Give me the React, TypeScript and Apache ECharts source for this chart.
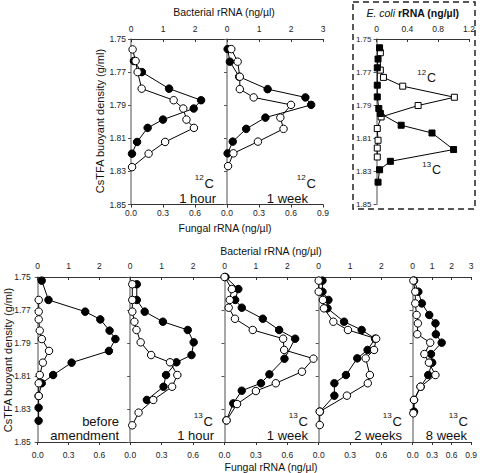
import React, { useEffect, useRef } from "react";
import * as echarts from "echarts";

const FONT = "'Liberation Sans', Arial, sans-serif";

// ---- Top row: 12C 1 hour ----
const t1FilledY = [1.7633, 1.770, 1.780, 1.787, 1.792, 1.7987, 1.8037, 1.8122, 1.8193];
const t1FilledBac = [0.09, 0.34, 1.19, 2.19, 1.96, 1.00, 0.52, 0.19, 0.03];
const t1OpenY = [1.7563, 1.7633, 1.770, 1.780, 1.787, 1.792, 1.7987, 1.8037, 1.8122, 1.8193, 1.8274];
const t1OpenFun = [0.015, 0.043, 0.062, 0.10, 0.40, 0.49, 0.52, 0.59, 0.32, 0.165, 0.01];

// ---- Top row: 12C 1 week ----
const t2FilledY = [1.7561, 1.7637, 1.7728, 1.7803, 1.7853, 1.7898, 1.7975, 1.8043, 1.812, 1.8191];
const t2FilledBac = [0.02, 0.09, 0.38, 1.27, 2.45, 2.63, 1.20, 0.60, 0.18, 0.02];
const t2OpenY = [1.7561, 1.7637, 1.7728, 1.7803, 1.7853, 1.7898, 1.7975, 1.8043, 1.812, 1.8191, 1.8268];
const t2OpenFun = [0.04, 0.10, 0.12, 0.12, 0.25, 0.60, 0.50, 0.53, 0.29, 0.06, 0.01];

// ---- E. coli panel ----
const eOpenY = [1.7583, 1.7688, 1.7732, 1.7785, 1.7852, 1.7902, 1.7971, 1.8041, 1.8112, 1.8159, 1.8213];
const eOpenVal = [0.05, 0.05, 0.09, 0.34, 1.01, 0.54, 0.06, 0.01, 0.02, 0.01, 0.01];
const eFilledY = [1.7553, 1.7621, 1.7674, 1.7779, 1.785, 1.792, 1.795, 1.8021, 1.8068, 1.8168, 1.8239, 1.829, 1.8365];
const eFilledVal = [0.04, 0.02, 0.01, 0.01, 0.01, 0.03, 0.05, 0.32, 0.72, 1.0, 0.18, 0.04, 0.02];

// ---- Bottom row ----
const b1FilledY = [1.7522, 1.7639, 1.771, 1.7757, 1.7825, 1.7876, 1.7948, 1.8019, 1.8094, 1.8144, 1.8221, 1.8292, 1.8371];
const b1FilledBac = [0.13, 0.35, 1.54, 2.03, 2.33, 2.52, 2.31, 1.10, 0.50, 0.13, 0.03, 0.03, 0.03];
const b1OpenY = [1.7639, 1.771, 1.7757, 1.7825, 1.7876, 1.7948, 1.8019, 1.8094, 1.8144, 1.8221];
const b1OpenFun = [0.01, 0.01, 0.01, 0.02, 0.04, 0.11, 0.05, 0.02, 0.01, 0.01];

const b2FilledY = [1.7544, 1.7639, 1.771, 1.7771, 1.7821, 1.7896, 1.7973, 1.8017, 1.8094, 1.8165, 1.8245];
const b2FilledBac = [0.21, 0.21, 0.46, 1.04, 1.83, 2.02, 1.95, 1.47, 1.14, 1.06, 0.53];
const b2OpenY = [1.7544, 1.7639, 1.771, 1.7771, 1.7821, 1.7896, 1.7973, 1.8017, 1.8094, 1.8165, 1.8245, 1.8322, 1.8399];
const b2OpenFun = [0.02, 0.02, 0.02, 0.04, 0.06, 0.10, 0.20, 0.38, 0.45, 0.40, 0.22, 0.08, 0.02];

const b3FilledY = [1.750, 1.7573, 1.7639, 1.7686, 1.7753, 1.7821, 1.7874, 1.7995, 1.809, 1.8144, 1.8189, 1.8266, 1.8369];
const b3FilledBac = [0.03, 0.44, 0.34, 0.55, 1.22, 1.74, 2.25, 1.91, 1.43, 1.16, 0.55, 0.28, 0.06];
const b3OpenY = [1.750, 1.7573, 1.7639, 1.7686, 1.7753, 1.7821, 1.7874, 1.7942, 1.7995, 1.8074, 1.8144, 1.8191, 1.827, 1.8369];
const b3OpenFun = [0.0, 0.07, 0.05, 0.04, 0.10, 0.27, 0.56, 0.57, 0.85, 0.74, 0.49, 0.30, 0.12, 0.02];

const b4FilledY = [1.7522, 1.7589, 1.7639, 1.769, 1.7771, 1.7821, 1.7874, 1.7942, 1.7993, 1.8094, 1.8144, 1.8219, 1.8316];
const b4FilledBac = [0.12, 0.12, 0.31, 0.28, 0.81, 1.37, 1.80, 1.56, 1.23, 0.87, 0.50, 0.50, 0.04];
const b4OpenY = [1.7522, 1.7589, 1.7639, 1.769, 1.7771, 1.7821, 1.7874, 1.7942, 1.7993, 1.8094, 1.8144, 1.8219, 1.8316, 1.8397];
const b4OpenFun = [0.0, 0.0, 0.04, 0.05, 0.14, 0.28, 0.55, 0.53, 0.45, 0.49, 0.47, 0.27, 0.01, 0.01];

const b5FilledY = [1.7522, 1.7589, 1.766, 1.773, 1.7781, 1.7847, 1.7898, 1.7967, 1.8019, 1.8094, 1.8165, 1.8245, 1.8316];
const b5FilledBac = [0.07, 0.29, 0.47, 0.85, 1.17, 1.19, 1.49, 0.94, 1.00, 0.80, 0.41, 0.07, 0.07];
const b5OpenY = [1.7522, 1.7589, 1.766, 1.773, 1.7781, 1.7847, 1.7898, 1.7967, 1.8019, 1.8094, 1.8165, 1.8245, 1.8326];
const b5OpenFun = [0.01, 0.04, 0.04, 0.06, 0.08, 0.07, 0.27, 0.18, 0.25, 0.35, 0.12, 0.02, 0.01];

const fungalTicks = { min: 0, max: 0.9, interval: 0.3 };
const bacterialTicks = { min: 0, max: 3, interval: 1 };
const densityTicks = { min: 1.75, max: 1.85, interval: 0.02 };
const ecoliTicks = { min: 0, max: 1.2, interval: 0.4 };

type Panel = {
  fY: number[]; fX: number[]; oY: number[]; oX: number[];
  left: number; width: number; top: number; height: number;
  showY: boolean; last: boolean; topMargin: number; bottomMargin: number; yMargin: number;
};

const panels: Panel[] = [
  { fY: t1FilledY, fX: t1FilledBac, oY: t1OpenY, oX: t1OpenFun, left: 131, width: 96, top: 39, height: 165.5, showY: true, last: false, topMargin: 6, bottomMargin: 4, yMargin: 5 },
  { fY: t2FilledY, fX: t2FilledBac, oY: t2OpenY, oX: t2OpenFun, left: 227, width: 96, top: 39, height: 165.5, showY: false, last: true, topMargin: 6, bottomMargin: 4, yMargin: 5 },
  { fY: b1FilledY, fX: b1FilledBac, oY: b1OpenY, oX: b1OpenFun, left: 37.7, width: 92.5, top: 277, height: 165, showY: true, last: false, topMargin: 7, bottomMargin: 8, yMargin: 7 },
  { fY: b2FilledY, fX: b2FilledBac, oY: b2OpenY, oX: b2OpenFun, left: 130.2, width: 94.3, top: 277, height: 165, showY: false, last: false, topMargin: 7, bottomMargin: 8, yMargin: 7 },
  { fY: b3FilledY, fX: b3FilledBac, oY: b3OpenY, oX: b3OpenFun, left: 224.5, width: 94.2, top: 277, height: 165, showY: false, last: false, topMargin: 7, bottomMargin: 8, yMargin: 7 },
  { fY: b4FilledY, fX: b4FilledBac, oY: b4OpenY, oX: b4OpenFun, left: 318.7, width: 94, top: 277, height: 165, showY: false, last: false, topMargin: 7, bottomMargin: 8, yMargin: 7 },
  { fY: b5FilledY, fX: b5FilledBac, oY: b5OpenY, oX: b5OpenFun, left: 412.7, width: 94, top: 277, height: 165, showY: false, last: true, topMargin: 7, bottomMargin: 8, yMargin: 7 },
];

const TEXT = "#111";

function superC(rightX: number, cy: number, sup: string, size = 13) {
  const cw = size * 0.722 + 1;
  return [
    { type: "text", x: rightX, y: cy, style: { text: "C", fontSize: size, fontFamily: FONT, fill: TEXT, align: "right", textAlign: "right", verticalAlign: "middle", textVerticalAlign: "middle" } },
    { type: "text", x: rightX - cw, y: cy - size * 0.42, style: { text: sup, fontSize: size * 0.62, fontFamily: FONT, fill: TEXT, align: "right", textAlign: "right", verticalAlign: "middle", textVerticalAlign: "middle" } },
  ];
}

function line(rightX: number, cy: number, text: string, size = 13) {
  return { type: "text", x: rightX, y: cy, style: { text, fontSize: size, fontFamily: FONT, fill: TEXT, align: "right", textAlign: "right", verticalAlign: "middle", textVerticalAlign: "middle" } };
}

function centered(x: number, y: number, text: string, size: number, extra: any = {}) {
  return { type: "text", x, y, ...extra, style: { text, fontSize: size, fontFamily: FONT, fill: TEXT, align: "center", textAlign: "center", verticalAlign: "middle", textVerticalAlign: "middle" } };
}

function buildOption() {
  const grid: any[] = [];
  const xAxis: any[] = [];
  const yAxis: any[] = [];
  const series: any[] = [];
  const labelStyle = { fontSize: 8.5, fontFamily: FONT, color: "#222" };

  panels.forEach((p, i) => {
    grid.push({ left: p.left, top: p.top, width: p.width, height: p.height });
    const bIdx = xAxis.length;
    xAxis.push({
      gridIndex: i, type: "value", position: "bottom", ...fungalTicks,
      axisLine: { show: true, onZero: false, lineStyle: { color: "#333", width: 1 } },
      axisTick: { show: true, length: 3, lineStyle: { color: "#333" } },
      splitLine: { show: false },
      axisLabel: { ...labelStyle, margin: p.bottomMargin, formatter: (v: number) => (v > 0.85 && !p.last ? "" : v.toFixed(1)) },
    });
    const tIdx = xAxis.length;
    xAxis.push({
      gridIndex: i, type: "value", position: "top", ...bacterialTicks,
      axisLine: { show: true, onZero: false, lineStyle: { color: "#333", width: 1 } },
      axisTick: { show: true, inside: true, length: 3, lineStyle: { color: "#333" } },
      splitLine: { show: false },
      axisLabel: { ...labelStyle, margin: p.topMargin, formatter: (v: number) => (v > 2.5 && !p.last ? "" : String(Math.round(v))) },
    });
    yAxis.push({
      gridIndex: i, type: "value", inverse: true, ...densityTicks,
      axisLine: { show: true, onZero: false, lineStyle: { color: "#8a8a8a", width: 1.5 } },
      axisTick: { show: true, length: 3, lineStyle: { color: "#555" } },
      splitLine: { show: false },
      axisLabel: { ...labelStyle, show: p.showY, margin: p.yMargin, formatter: (v: number) => v.toFixed(2) },
    });
    series.push({
      type: "line", xAxisIndex: tIdx, yAxisIndex: i,
      data: p.fY.map((y, k) => [p.fX[k], y]),
      symbol: "circle", symbolSize: 7.5,
      lineStyle: { color: "#000", width: 1 },
      itemStyle: { color: "#000", borderColor: "#000", borderWidth: 1 },
      emphasis: { disabled: true },
    });
    series.push({
      type: "line", xAxisIndex: bIdx, yAxisIndex: i,
      data: p.oY.map((y, k) => [p.oX[k], y]),
      symbol: "circle", symbolSize: 7.5,
      lineStyle: { color: "#000", width: 1 },
      itemStyle: { color: "#fff", borderColor: "#000", borderWidth: 1 },
      emphasis: { disabled: true },
    });
  });

  // E. coli panel
  const gi = grid.length;
  grid.push({ left: 376.5, top: 39, width: 92.5, height: 165.5 });
  const eX = xAxis.length;
  xAxis.push({
    gridIndex: gi, type: "value", position: "top", ...ecoliTicks,
    axisLine: { show: true, onZero: false, lineStyle: { color: "#333", width: 1 } },
    axisTick: { show: true, inside: true, length: 3, lineStyle: { color: "#333" } },
    splitLine: { show: false },
    axisLabel: { ...labelStyle, margin: 6, formatter: (v: number) => (v < 0.01 ? "0" : v.toFixed(1)) },
  });
  yAxis.push({
    gridIndex: gi, type: "value", inverse: true, ...densityTicks,
    axisLine: { show: true, onZero: false, lineStyle: { color: "#8a8a8a", width: 1.5 } },
    axisTick: { show: true, length: 3, lineStyle: { color: "#555" } },
    splitLine: { show: false },
    axisLabel: { ...labelStyle, fontSize: 8, margin: 5, formatter: (v: number) => v.toFixed(2) },
  });
  series.push({
    type: "line", xAxisIndex: eX, yAxisIndex: gi,
    data: eOpenY.map((y, k) => [eOpenVal[k], y]),
    symbol: "rect", symbolSize: 6,
    lineStyle: { color: "#000", width: 1 },
    itemStyle: { color: "#fff", borderColor: "#000", borderWidth: 1 },
    emphasis: { disabled: true },
  });
  series.push({
    type: "line", xAxisIndex: eX, yAxisIndex: gi,
    data: eFilledY.map((y, k) => [eFilledVal[k], y]),
    symbol: "rect", symbolSize: 6,
    lineStyle: { color: "#000", width: 1 },
    itemStyle: { color: "#000", borderColor: "#000", borderWidth: 1 },
    emphasis: { disabled: true },
  });

  const graphic: any[] = [
    centered(224, 12, "Bacterial rRNA (ng/µl)", 10.5),
    centered(225, 228, "Fungal rRNA (ng/µl)", 10.5),
    centered(100, 121, "CsTFA buoyant density (g/ml)", 11, { rotation: Math.PI / 2 }),
    centered(271, 251, "Bacterial rRNA (ng/µl)", 10.5),
    centered(271, 467, "Fungal rRNA (ng/µl)", 10.5),
    centered(8, 360, "CsTFA buoyant density (g/ml)", 11, { rotation: Math.PI / 2 }),
    // E. coli title
    { type: "text", x: 395, y: 13, style: { text: "E. coli", fontSize: 10.5, fontStyle: "italic", fontFamily: FONT, fill: TEXT, align: "right", textAlign: "right", verticalAlign: "middle", textVerticalAlign: "middle" } },
    { type: "text", x: 398, y: 13, style: { text: "rRNA (ng/µl)", fontSize: 10.5, fontWeight: "bold", fontFamily: FONT, fill: TEXT, align: "left", textAlign: "left", verticalAlign: "middle", textVerticalAlign: "middle" } },
    { type: "rect", shape: { x: 353, y: 2, width: 122, height: 207 }, style: { fill: "none", stroke: "#222", lineWidth: 1.5, lineDash: [6, 4] } },
    ...superC(436, 78, "12", 12.5),
    ...superC(441, 170, "13", 12.5),
    // top row annotations
    ...superC(214, 183, "12"),
    line(216, 198, "1 hour"),
    ...superC(316, 183, "12"),
    line(308, 198, "1 week"),
    // bottom row annotations
    line(119, 421, "before"),
    line(119, 435, "amendment"),
    ...superC(213, 421, "13"),
    line(214, 435, "1 hour"),
    ...superC(308, 421, "13"),
    line(308, 435, "1 week"),
    ...superC(402, 421, "13"),
    line(402, 435, "2 weeks"),
    ...superC(468, 421, "13"),
    line(467, 435, "8 week"),
  ];

  return {
    animation: false,
    backgroundColor: "#fff",
    grid, xAxis, yAxis, series, graphic,
  };
}

export default function App() {
  const ref = useRef<HTMLDivElement>(null);
  useEffect(() => {
    if (!ref.current) return;
    const chart = echarts.init(ref.current, undefined, { renderer: "svg" });
    chart.setOption(buildOption() as any);
    return () => chart.dispose();
  }, []);
  return <div ref={ref} style={{ position: "absolute", left: 0, top: 0, width: 480, height: 473 }} />;
}
